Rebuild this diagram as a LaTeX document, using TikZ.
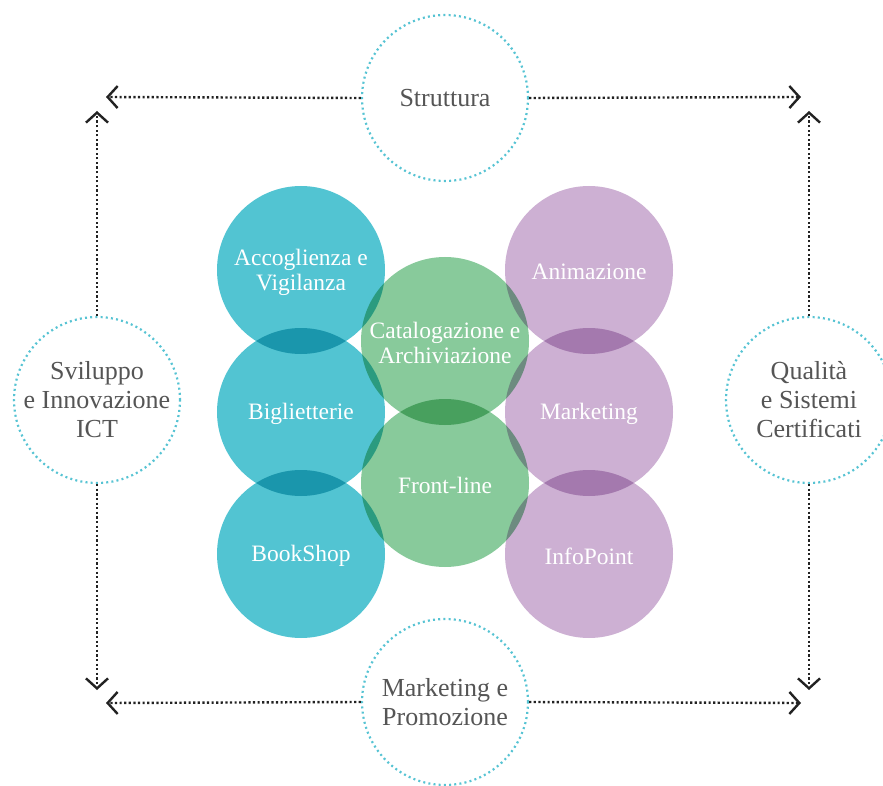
\documentclass[tikz,border=0pt]{standalone}
\usepackage{fontspec}
\setmainfont{Liberation Serif}
\usetikzlibrary{arrows.meta}

\definecolor{teal}{HTML}{52C4D2}
\definecolor{leaf}{HTML}{88CA9B}
\definecolor{lilac}{HTML}{CDB0D3}
\definecolor{ring}{HTML}{56C3D3}
\definecolor{ink}{HTML}{555555}
\definecolor{tipc}{HTML}{222222}

\tikzset{
  bubble/.style={circle, minimum size=168pt, inner sep=0pt},
  tealbubble/.style={bubble, fill=teal},
  leafbubble/.style={bubble, fill=leaf},
  lilacbubble/.style={bubble, fill=lilac},
  bubbletext/.style={text=white, align=center, yshift=-2pt,
    font=\fontsize{23.5}{25}\selectfont},
  area/.style={circle, minimum size=166pt, inner sep=0pt, draw=ring,
    line width=2.2pt, dash pattern=on 2pt off 3.2pt, text=ink,
    align=center, font=\fontsize{26}{29}\selectfont},
  flow/.style={draw=tipc, line width=2.4pt, dash pattern=on 2.2pt off 2.4pt,
    -{Straight Barb[length=10pt, width=22pt, line width=2.4pt]}}
}

\begin{document}
\begin{tikzpicture}[x=1pt, y=-1pt]
  \useasboundingbox (0,0) rectangle (883,786);

  % overlapping bubbles, darkened where they cross
  \begin{scope}[blend group=multiply]
    \node[tealbubble] (acc) at (301,270) {};
    \node[tealbubble] (big) at (301,412) {};
    \node[tealbubble] (book) at (301,554) {};
    \node[leafbubble] (cat) at (445,341) {};
    \node[leafbubble] (front) at (445,483) {};
    \node[lilacbubble] (anim) at (589,270) {};
    \node[lilacbubble] (mkt) at (589,412) {};
    \node[lilacbubble] (info) at (589,554) {};
  \end{scope}

  % bubble labels
  \node[bubbletext] (accl) at (acc) {Accoglienza e\\Vigilanza};
  \node[bubbletext] (bigl) at (big) {Biglietterie};
  \node[bubbletext] (bookl) at (book) {BookShop};
  \node[bubbletext] (catl) at (cat) {Catalogazione e\\Archiviazione};
  \node[bubbletext] (frontl) at (front) {Front-line};
  \node[bubbletext] (animl) at (anim) {Animazione};
  \node[bubbletext] (mktl) at (mkt) {Marketing};
  \node[bubbletext] (infol) at (info) {InfoPoint};

  % surrounding areas
  \node[area] (str) at (445,98) {Struttura};
  \node[area] (ict) at (97,400) {Sviluppo\\e Innovazione\\ICT};
  \node[area] (qual) at (809,400) {Qualità\\e Sistemi\\Certificati};
  \node[area] (prom) at (445,702) {Marketing e\\Promozione};

  % arrow ends
  \coordinate (tl) at (106,97);
  \coordinate (tr) at (801,97);
  \coordinate (lt) at (97,111);
  \coordinate (lb) at (97,690);
  \coordinate (rt) at (809,111);
  \coordinate (rb) at (809,690);
  \coordinate (bl) at (106,703);
  \coordinate (br) at (801,703);

  \draw[flow] (str.west) -- (tl);
  \draw[flow] (str.east) -- (tr);
  \draw[flow] (ict.north) -- (lt);
  \draw[flow] (ict.south) -- (lb);
  \draw[flow] (qual.north) -- (rt);
  \draw[flow] (qual.south) -- (rb);
  \draw[flow] (prom.west) -- (bl);
  \draw[flow] (prom.east) -- (br);
\end{tikzpicture}
\end{document}
